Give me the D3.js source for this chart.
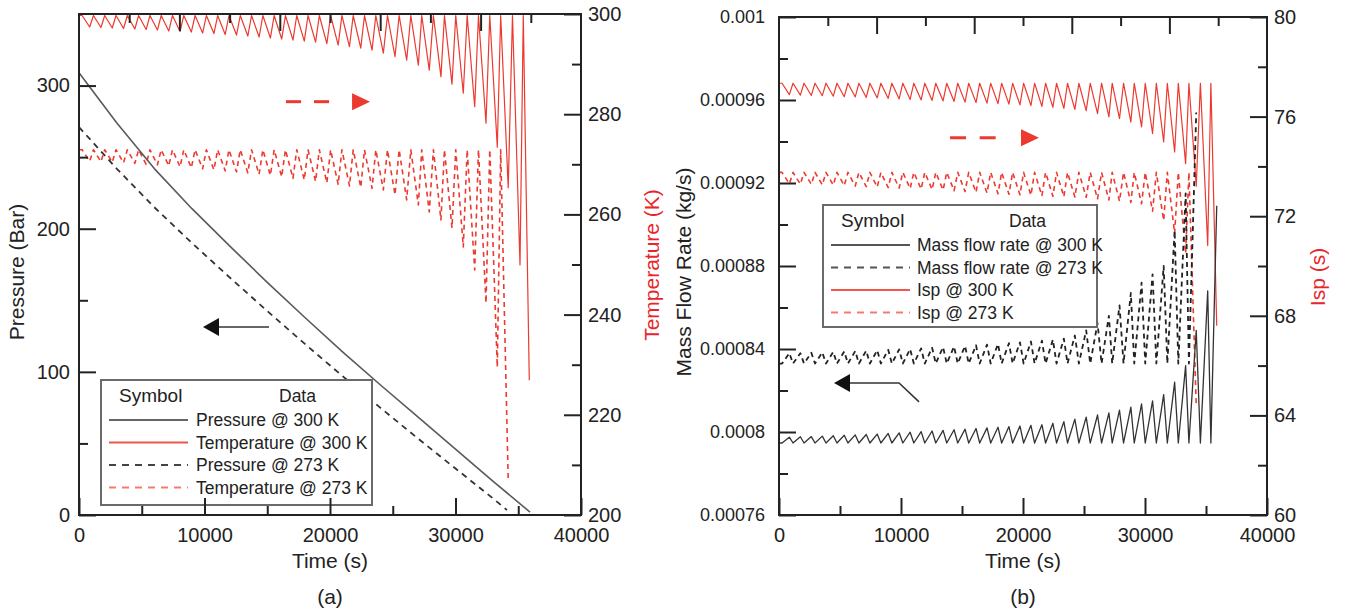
<!DOCTYPE html>
<html>
<head>
<meta charset="utf-8">
<script src="https://cdn.jsdelivr.net/npm/d3@7"></script>
<style>
  body { margin: 0; background: #fff; }
  svg { font-family: 'Liberation Sans', Arial, sans-serif; }
</style>
</head>
<body>
<svg id="chart" width="1345" height="610"></svg>
<script>
/* global d3 */

// ---- axis ticks
let timeMajor = [0, 10000, 20000, 30000, 40000]
let timeMinor = [5000, 15000, 25000, 35000]
let timeTopLong = [8000, 16000, 24000, 32000]
let timeTopShort = [4000, 12000, 20000, 28000, 36000]
let pressureMajor = [0, 100, 200, 300]
let pressureMinor = [50, 150, 250]
let temperatureMajor = [200, 220, 240, 260, 280, 300]
let temperatureMinor = [210, 230, 250, 270, 290]
let flowMajor = [0.00076, 0.0008, 0.00084, 0.00088, 0.00092, 0.00096, 0.001]
let flowMinor = [0.00078, 0.00082, 0.00086, 0.0009, 0.00094, 0.00098]
let ispMajor = [60, 64, 68, 72, 76, 80]
let ispMinor = [62, 66, 70, 74, 78]

// ---- tank pressure (bar) against time (s)
let pressureTime300 = [0, 3000, 6000, 9000, 12000, 15000, 18000, 21000, 24000, 27000, 30000, 33000, 35940]
let pressure300 = [309, 274, 242, 214, 188, 162.5, 138, 114, 91, 68.5, 46, 23.5, 2]
let pressureTime273 = [0, 3000, 6000, 9000, 12000, 15000, 18000, 21000, 24000, 27000, 30000, 33000, 34100]
let pressure273 = [271, 242, 215, 190, 166, 142.5, 119.5, 97, 75, 53.5, 32.5, 11.5, 3.5]

// ---- thruster pulses: valve open time and time of the extreme value (s)
let pulseOpen = [250, 1150, 2050, 2950, 3850, 4750, 5650, 6550, 7450, 8350,
  9250, 10150, 11050, 11950, 12850, 13750, 14650, 15550, 16450, 17350,
  18250, 19150, 20050, 20950, 21850, 22750, 23650, 24580, 25510, 26440,
  27310, 28240, 29120, 30020, 30930, 31830, 32730, 33600, 34540, 35400]
let pulseEnd = [850, 1750, 2650, 3550, 4450, 5350, 6250, 7150, 8050, 8950,
  9850, 10750, 11650, 12550, 13450, 14350, 15250, 16150, 17050, 17950,
  18850, 19750, 20650, 21550, 22450, 23350, 24250, 25180, 26110, 27040,
  27910, 28840, 29720, 30620, 31530, 32430, 33330, 34200, 35140, 35880]

// temperature (K)
let temp300Top = 299.7
let temp300Low = [297.4, 297.3, 297.2, 297.1, 297.0, 296.9, 296.8, 296.6, 296.5, 296.4,
  296.2, 296.1, 295.9, 295.8, 295.6, 295.4, 295.2, 295.0, 294.8, 294.6,
  294.4, 294.1, 293.8, 293.5, 293.2, 292.8, 292.2, 291.5, 290.8, 289.8,
  288.8, 287.5, 286.0, 284.2, 281.5, 278.2, 273.4, 265.3, 249.9, 226.9]
let temp273Top = 272.9
let temp273Low = [270.6, 270.5, 270.4, 270.3, 270.2, 270.0, 269.9, 269.7, 269.5, 269.3,
  269.1, 268.9, 268.7, 268.5, 268.3, 268.0, 267.8, 267.5, 267.2, 266.9,
  266.6, 266.3, 266.0, 265.7, 265.4, 265.2, 264.9, 263.9, 262.9, 261.9,
  260.5, 258.9, 257.3, 253.5, 248.9, 242.3, 229.5, 207.0]

// specific impulse (s)
let isp300Top = 77.34
let isp300Low = [76.88, 76.86, 76.85, 76.84, 76.82, 76.80, 76.79, 76.77, 76.75, 76.73,
  76.71, 76.69, 76.67, 76.65, 76.63, 76.61, 76.58, 76.56, 76.54, 76.52,
  76.50, 76.47, 76.44, 76.41, 76.37, 76.33, 76.29, 76.24, 76.12, 75.99,
  75.92, 75.78, 75.59, 75.32, 74.98, 74.58, 74.11, 73.2, 70.82, 67.6]
let isp273Top = 73.76
let isp273Low = [73.30, 73.29, 73.28, 73.26, 73.25, 73.23, 73.21, 73.19, 73.17, 73.15,
  73.13, 73.11, 73.09, 73.07, 73.05, 73.02, 72.99, 72.96, 72.93, 72.90,
  72.88, 72.86, 72.84, 72.82, 72.80, 72.78, 72.77, 72.76, 72.70, 72.65,
  72.60, 72.55, 72.50, 72.20, 71.83, 71.31, 70.50, 64.4]

// mass flow rate (kg/s)
let flow300Base = 0.0007947
let flow300Peak = [0.0007975, 0.0007977, 0.0007978, 0.000798, 0.0007982, 0.0007984, 0.0007986, 0.0007988, 0.000799, 0.0007993,
  0.0007996, 0.0007999, 0.0008002, 0.0008005, 0.0008008, 0.0008011, 0.0008014, 0.0008017, 0.000802, 0.0008023,
  0.0008026, 0.0008029, 0.0008032, 0.0008035, 0.0008042, 0.000805, 0.0008062, 0.0008072, 0.0008082, 0.0008092,
  0.0008105, 0.000812, 0.0008135, 0.000815, 0.000818, 0.000824, 0.000832, 0.000849, 0.000868, 0.000909]
let flow273Base = 0.000833
let flow273Peak = [0.000838, 0.000838, 0.0008382, 0.0008384, 0.0008386, 0.0008388, 0.000839, 0.0008392, 0.0008394, 0.0008396,
  0.0008398, 0.00084, 0.0008403, 0.0008406, 0.0008409, 0.0008412, 0.0008415, 0.0008418, 0.0008421, 0.0008424,
  0.0008428, 0.0008432, 0.0008436, 0.000844, 0.0008445, 0.000845, 0.0008465, 0.000849, 0.0008525, 0.000856,
  0.000861, 0.000867, 0.000872, 0.000876, 0.00088, 0.000897, 0.000915, 0.000954]

let ink = '#222'
let red = '#ec3a30'
let lightRed = '#f47a70'
let font = "'Liberation Sans', Arial, sans-serif"
let svg = d3.select('#chart')

// vertices of a pulse train: resting value, then the extreme reached in each pulse
function pulseSeries (rest, extremes) {
  let pts = [[0, rest]]
  extremes.forEach(function (v, i) {
    pts.push([pulseOpen[i], rest])
    pts.push([pulseEnd[i], v])
  })
  return pts
}

function styleAxis (sel, size) {
  sel.select('.domain').remove()
  sel.selectAll('line').attr('stroke', ink).attr('stroke-width', 2)
  sel.attr('font-size', size || 20).attr('font-family', font)
  sel.selectAll('text').attr('fill', ink)
}

function frame (g, x, yL, yR, o) {
  let b = yL.range()[0]
  let t = yL.range()[1]
  let l = x.range()[0]
  let r = x.range()[1]
  g.append('g').attr('transform', 'translate(0,' + b + ')')
    .call(d3.axisBottom(x).tickValues(timeMinor).tickSize(-9).tickFormat(''))
    .call(styleAxis)
  g.append('g').attr('transform', 'translate(0,' + b + ')')
    .call(d3.axisBottom(x).tickValues(timeMajor).tickSize(-17).tickPadding(13).tickFormat(String))
    .call(styleAxis)
  g.append('g').attr('transform', 'translate(0,' + t + ')')
    .call(d3.axisTop(x).tickValues(timeTopShort).tickSize(-9).tickFormat(''))
    .call(styleAxis)
  g.append('g').attr('transform', 'translate(0,' + t + ')')
    .call(d3.axisTop(x).tickValues(timeTopLong).tickSize(-17).tickFormat(''))
    .call(styleAxis)
  g.append('g').attr('transform', 'translate(' + l + ',0)')
    .call(d3.axisLeft(yL).tickValues(o.leftMinor).tickSize(-9).tickFormat(''))
    .call(styleAxis)
  g.append('g').attr('transform', 'translate(' + l + ',0)')
    .call(d3.axisLeft(yL).tickValues(o.leftMajor).tickSize(-17).tickPadding(o.leftPad).tickFormat(String))
    .call(styleAxis, o.leftSize)
  g.append('g').attr('transform', 'translate(' + r + ',0)')
    .call(d3.axisRight(yR).tickValues(o.rightMinor).tickSize(-9).tickFormat(''))
    .call(styleAxis)
  g.append('g').attr('transform', 'translate(' + r + ',0)')
    .call(d3.axisRight(yR).tickValues(o.rightMajor).tickSize(-17).tickPadding(7).tickFormat(String))
    .call(styleAxis)
  g.append('rect')
    .attr('x', l).attr('y', t)
    .attr('width', r - l).attr('height', b - t)
    .attr('fill', 'none').attr('stroke', ink).attr('stroke-width', 2)

  g.append('text').text('Time (s)')
    .attr('x', (l + r) / 2).attr('y', 568)
    .attr('text-anchor', 'middle').attr('font-size', 21).attr('fill', ink)
  g.append('text').text(o.tag)
    .attr('x', (l + r) / 2).attr('y', 604)
    .attr('text-anchor', 'middle').attr('font-size', 21).attr('fill', ink)
  g.append('text').text(o.leftTitle)
    .attr('transform', 'translate(' + o.leftTitleX + ',' + o.leftTitleY + ') rotate(-90)')
    .attr('text-anchor', 'middle').attr('font-size', 21).attr('fill', ink)
  g.append('text').text(o.rightTitle)
    .attr('transform', 'translate(' + o.rightTitleX + ',' + o.rightTitleY + ') rotate(-90)')
    .attr('text-anchor', 'middle').attr('font-size', 21).attr('fill', '#e8262a')
}

function drawLine (g, pts, x, y, color, width, dash) {
  g.append('path')
    .datum(pts)
    .attr('d', d3.line().x(function (d) { return x(d[0]) }).y(function (d) { return y(d[1]) }))
    .attr('fill', 'none')
    .attr('stroke', color)
    .attr('stroke-width', width)
    .attr('stroke-linejoin', 'round')
    .attr('stroke-dasharray', dash || null)
}

function zip (a, b) {
  return a.map(function (v, i) { return [v, b[i]] })
}

// red dashed arrow pointing right, black arrow pointing left
function redArrow (g, x0, x1, y) {
  let len = x1 - x0
  let seg = len * 0.18
  g.append('line').attr('x1', x0).attr('x2', x0 + seg).attr('y1', y).attr('y2', y)
    .attr('stroke', red).attr('stroke-width', 3)
  g.append('line').attr('x1', x0 + seg * 1.85).attr('x2', x0 + seg * 2.85).attr('y1', y).attr('y2', y)
    .attr('stroke', red).attr('stroke-width', 3)
  g.append('path')
    .attr('d', 'M' + x1 + ',' + y + 'L' + (x1 - 18) + ',' + (y - 8.5) + 'L' + (x1 - 18) + ',' + (y + 8.5) + 'Z')
    .attr('fill', red)
}

function blackArrow (g, pts) {
  g.append('path')
    .attr('d', d3.line()(pts.map(function (p, i) { return i === 0 ? [p[0] + 14, p[1]] : p })))
    .attr('fill', 'none').attr('stroke', '#333').attr('stroke-width', 1.5)
  let tx = pts[0][0]
  let ty = pts[0][1]
  g.append('path')
    .attr('d', 'M' + tx + ',' + ty + 'L' + (tx + 16) + ',' + (ty - 9) + 'L' + (tx + 16) + ',' + (ty + 9) + 'Z')
    .attr('fill', '#111')
}

function legend (g, box, rows) {
  g.append('rect')
    .attr('x', box.x).attr('y', box.y).attr('width', box.w).attr('height', box.h)
    .attr('fill', '#fff').attr('stroke', '#6a6a6a').attr('stroke-width', 2)
  g.append('text').text('Symbol')
    .attr('x', box.x + 18).attr('y', box.y + 22)
    .attr('font-size', 19).attr('fill', ink)
  g.append('text').text('Data')
    .attr('x', box.dataX).attr('y', box.y + 22)
    .attr('font-size', 17.5).attr('fill', ink)
  rows.forEach(function (r, i) {
    let yy = box.y + 40 + i * 22.5
    g.append('line')
      .attr('x1', box.x + 8).attr('x2', box.x + 87)
      .attr('y1', yy).attr('y2', yy)
      .attr('stroke', r.color).attr('stroke-width', 2)
      .attr('stroke-dasharray', r.dash || null)
    g.append('text').text(r.label)
      .attr('x', box.labelX).attr('y', yy + 6)
      .attr('font-size', 17.5).attr('fill', ink)
  })
}

// ================= panel (a)
let ga = svg.append('g')
let xa = d3.scaleLinear().domain([0, 40000]).range([79, 581])
let ya = d3.scaleLinear().domain([0, 350]).range([515, 14])
let yaT = d3.scaleLinear().domain([200, 300]).range([515, 14])

drawLine(ga, pulseSeries(temp300Top, temp300Low), xa, yaT, red, 1.2)
drawLine(ga, pulseSeries(temp273Top, temp273Low), xa, yaT, red, 1.6, '5,4')
drawLine(ga, zip(pressureTime300, pressure300), xa, ya, '#5a5a5a', 1.6)
drawLine(ga, zip(pressureTime273, pressure273), xa, ya, '#333', 1.8, '6,5')

redArrow(ga, xa(16490), xa(23190), yaT(282.5))
blackArrow(ga, [[xa(9880), ya(131.3)], [xa(15140), ya(131.3)]])

legend(ga, { x: 101, y: 380, w: 271, h: 125, dataX: 279, labelX: 196 }, [
  { label: 'Pressure @ 300 K', color: '#666' },
  { label: 'Temperature @ 300 K', color: '#f0564c' },
  { label: 'Pressure @ 273 K', color: '#444', dash: '7,6' },
  { label: 'Temperature @ 273 K', color: lightRed, dash: '7,6' }
])

frame(ga, xa, ya, yaT, {
  leftMajor: pressureMajor,
  leftMinor: pressureMinor,
  rightMajor: temperatureMajor,
  rightMinor: temperatureMinor,
  leftPad: 9,
  leftSize: 20,
  tag: '(a)',
  leftTitle: 'Pressure (Bar)',
  leftTitleX: 24,
  leftTitleY: 272,
  rightTitle: 'Temperature (K)',
  rightTitleX: 659,
  rightTitleY: 265
})

// ================= panel (b)
let gb = svg.append('g')
let xb = d3.scaleLinear().domain([0, 40000]).range([779, 1267])
let yb = d3.scaleLinear().domain([0.00076, 0.001]).range([515, 17])
let ybI = d3.scaleLinear().domain([60, 80]).range([515, 17])

drawLine(gb, pulseSeries(isp300Top, isp300Low), xb, ybI, red, 1.2)
drawLine(gb, pulseSeries(isp273Top, isp273Low), xb, ybI, red, 1.6, '5,4')
drawLine(gb, pulseSeries(flow300Base, flow300Peak), xb, yb, '#333', 1.3)
drawLine(gb, pulseSeries(flow273Base, flow273Peak), xb, yb, '#222', 1.8, '5,4')

redArrow(gb, xb(14020), xb(21310), ybI(75.15))
blackArrow(gb, [[xb(4510), yb(0.0008236)], [xb(9840), yb(0.0008236)], [xb(11480), yb(0.0008145)]])

legend(gb, { x: 823, y: 205, w: 274, h: 122, dataX: 1009, labelX: 917 }, [
  { label: 'Mass flow rate @ 300 K', color: '#555' },
  { label: 'Mass flow rate @ 273 K', color: '#555', dash: '7,6' },
  { label: 'Isp @ 300 K', color: '#f0564c' },
  { label: 'Isp @ 273 K', color: lightRed, dash: '7,6' }
])

frame(gb, xb, yb, ybI, {
  leftMajor: flowMajor,
  leftMinor: flowMinor,
  rightMajor: ispMajor,
  rightMinor: ispMinor,
  leftPad: 14,
  leftSize: 18,
  tag: '(b)',
  leftTitle: 'Mass Flow Rate (kg/s)',
  leftTitleX: 691,
  leftTitleY: 272,
  rightTitle: 'Isp (s)',
  rightTitleX: 1325,
  rightTitleY: 277
})
</script>
</body>
</html>
